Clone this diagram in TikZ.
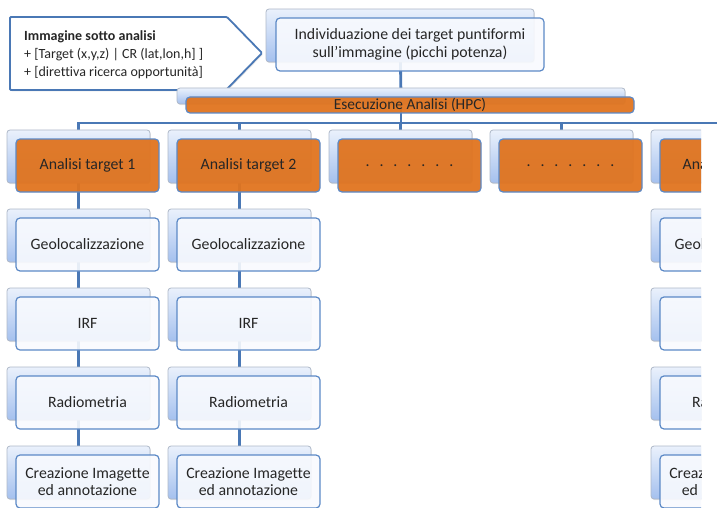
\documentclass[tikz,border=0pt]{standalone}
\usepackage{fontspec}
\setmainfont{Carlito}[Ligatures=NoCommon]
\usetikzlibrary{shadows}

\definecolor{linkblue}{HTML}{4A78B5}
\definecolor{edgeblue}{HTML}{5C89C6}
\definecolor{backtop}{HTML}{EAF1FC}
\definecolor{backbot}{HTML}{A4C0EE}
\definecolor{backedge}{HTML}{AEB8C8}
\definecolor{frontfill}{HTML}{F8FAFE}
\definecolor{runorange}{HTML}{E0741F}
\definecolor{ink}{HTML}{262626}

\pgfdeclarelayer{links}
\pgfsetlayers{links,main}

\newcommand{\dotrow}{.\hspace{10pt}.\hspace{10pt}.\hspace{10pt}.\hspace{10pt}.\hspace{10pt}.\hspace{10pt}.}

\begin{document}
\begin{tikzpicture}[x=1pt,y=-1pt,
  backbox/.style={draw=backedge, line width=0.8pt, rounded corners=3pt,
    top color=backtop, bottom color=backbot, inner sep=0pt, outer sep=0pt,
    anchor=north west,
    drop shadow={shadow xshift=0.8pt, shadow yshift=-1.2pt, opacity=0.2}},
  frontbox/.style={draw=edgeblue, line width=1.2pt, rounded corners=4pt,
    fill=frontfill, fill opacity=0.9, text opacity=1, text=ink,
    inner sep=0pt, outer sep=0pt, align=center,
    font=\fontsize{15.8}{17.5}\selectfont},
  runbox/.style={frontbox, fill=runorange, fill opacity=0.95},
  link/.style={draw=linkblue, line width=2.8pt},
  callout/.style={draw=linkblue, line width=1.8pt, fill=white, rounded corners=1pt,
    drop shadow={shadow xshift=1pt, shadow yshift=-1.5pt, opacity=0.2}},
  calltext/.style={text=ink, align=left, inner sep=0pt,
    font=\fontsize{14}{18}\selectfont}
]
\useasboundingbox (0,0) rectangle (717,508);

% --- input brief (pentagon callout) ---
\draw[callout] (10,17) -- (227,17) -- (262,53) -- (226,90) -- (10,90) -- cycle;
\node[calltext, anchor=west] (brief) at (24,55)
  {\textbf{Immagine sotto analisi}\\
   + [Target (x,y,z) | CR (lat,lon,h] ]\\
   + [direttiva ricerca opportunità]};

% --- target detection step ---
\node[backbox, minimum width=268pt, minimum height=53pt] (detB) at (266,9) {};
\node[frontbox, minimum width=268pt, minimum height=53pt, anchor=north west]
  (detF) at (276,18) {Individuazione dei target puntiformi\\sull'immagine (picchi potenza)};

% --- HPC run bar ---
\node[backbox, minimum width=448pt, minimum height=16pt] (runB) at (177,88) {};
\node[runbox, minimum width=448pt, minimum height=16pt, anchor=north west,
      font=\fontsize{15.4}{16}\selectfont]
  (runF) at (186,97) {Esecuzione Analisi (HPC)};

\coordinate (busend) at (717,123);

% --- per-target columns (the last one runs past the right margin) ---
\begin{scope}
\clip (-5,125) rectangle (701,520);
\foreach \k/\name in {0/Analisi target 1, 1/Analisi target 2, 2/\dotrow, 3/\dotrow, 4/Analisi target N}{
  \node[backbox, minimum width=143pt, minimum height=53pt] (b\k-0) at ({7+161*\k},130) {};
  \node[runbox, minimum width=143pt, minimum height=53pt, anchor=north west]
    (f\k-0) at ({16+161*\k},139) {\name};
}
\foreach \k in {0,1,4}{
  \foreach \r/\step in {1/Geolocalizzazione, 2/IRF, 3/Radiometria, 4/{Creazione Imagette\\ed annotazione}}{
    \node[backbox, minimum width=143pt, minimum height=53pt] (b\k-\r) at ({7+161*\k},{130+79*\r}) {};
    \node[frontbox, minimum width=143pt, minimum height=53pt, anchor=north west]
      (f\k-\r) at ({16+161*\k},{139+79*\r}) {\step};
  }
}
\end{scope}

% --- connectors, behind the boxes ---
\begin{pgfonlayer}{links}
  \draw[link] (detB.center) -- (runB.center);
  \draw[link] (runB.center) -- (runB.center |- busend);
  \draw[link] (b0-0.center) |- (busend);
  \foreach \k in {1,2,3}{
    \draw[link] (b\k-0.center) -- (b\k-0.center |- busend);
  }
  \foreach \k in {0,1}{
    \foreach \r [evaluate=\r as \n using int(\r+1)] in {0,1,2,3}{
      \draw[link] (b\k-\r.center) -- (b\k-\n.center);
    }
  }
\end{pgfonlayer}
\end{tikzpicture}
\end{document}
